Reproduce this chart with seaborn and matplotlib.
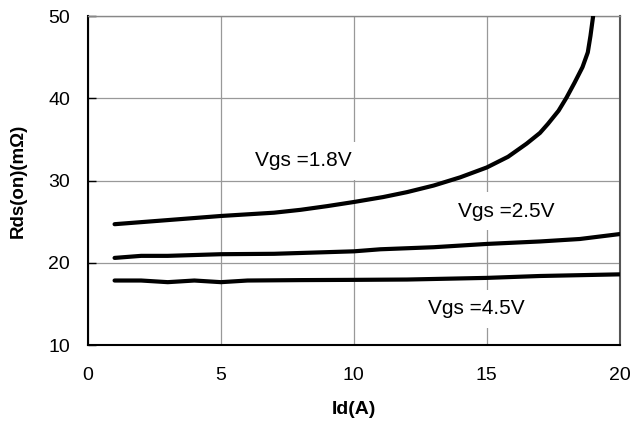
import numpy as np
import pandas as pd
import matplotlib
matplotlib.use('Agg')
import matplotlib.pyplot as plt
import seaborn as sns

# curves
id_18 = [1, 3, 5, 7, 8, 9, 10, 11.1, 12, 13, 14, 15, 15.8, 16.5, 17, 17.3, 17.7, 18, 18.3, 18.6, 18.8, 18.9, 19.0]
rds_18 = [24.7, 25.2, 25.7, 26.1, 26.45, 26.9, 27.4, 28.0, 28.6, 29.4, 30.4, 31.6, 32.9, 34.5, 35.8, 36.9, 38.5, 40.1, 41.9, 43.8, 45.6, 47.6, 50.0]

id_25 = [1, 2, 3, 5, 7, 10, 11, 13, 15, 17, 18.5, 20]
rds_25 = [20.6, 20.85, 20.85, 21.05, 21.1, 21.4, 21.65, 21.9, 22.3, 22.6, 22.9, 23.5]

id_45 = [1, 2, 3, 4, 5, 6, 8, 10, 12, 15, 17, 20]
rds_45 = [17.85, 17.85, 17.65, 17.85, 17.65, 17.85, 17.9, 17.93, 17.97, 18.17, 18.4, 18.6]

labels = ['Vgs =1.8V', 'Vgs =2.5V', 'Vgs =4.5V']
label_pos = [(6.3, 32.4), (13.9, 26.3), (12.8, 14.4)]

df = pd.concat([
    pd.DataFrame({'Id': id_18, 'Rds': rds_18, 'Vgs': labels[0]}),
    pd.DataFrame({'Id': id_25, 'Rds': rds_25, 'Vgs': labels[1]}),
    pd.DataFrame({'Id': id_45, 'Rds': rds_45, 'Vgs': labels[2]}),
])

sns.set_style('white')
plt.rcParams['font.family'] = ['Liberation Sans', 'DejaVu Sans']
plt.rcParams['text.color'] = 'black'
plt.rcParams['axes.labelcolor'] = 'black'

fig = plt.figure(figsize=(6.33, 4.26), dpi=100)
ax = fig.add_axes([0.139, 0.19, 0.840, 0.772])

sns.lineplot(data=df, x='Id', y='Rds', hue='Vgs', palette=['black'] * 3,
             linewidth=3, sort=False, estimator=None, legend=False, ax=ax, zorder=3)

ax.set_xlim(0, 20)
ax.set_ylim(10, 50)
ax.set_xticks([0, 5, 10, 15, 20])
ax.set_yticks([10, 20, 30, 40, 50])
ax.grid(True, color='#999999', linewidth=0.9)
ax.tick_params(axis='both', labelsize=14, colors='black')
ax.tick_params(axis='x', length=0, pad=16)
ax.tick_params(axis='y', direction='in', length=6, width=1, pad=13, left=True)

for side in ['left', 'bottom']:
    ax.spines[side].set_color('black')
    ax.spines[side].set_linewidth(1.5)
ax.spines['top'].set_color('#888888')
ax.spines['right'].set_color('#555555')
ax.spines['top'].set_linewidth(1)
ax.spines['right'].set_linewidth(1.5)

ax.set_xlabel('Id(A)', fontsize=14, fontweight='bold', labelpad=12)
ax.set_ylabel('Rds(on)(m\u03a9)', fontsize=13.5, fontweight='bold', labelpad=15)

for txt, (x, y) in zip(labels, label_pos):
    ax.text(x, y, txt, fontsize=15, va='center', ha='left', zorder=4,
            bbox=dict(facecolor='white', edgecolor='none', pad=7))

fig.savefig('out.png', dpi=100)
